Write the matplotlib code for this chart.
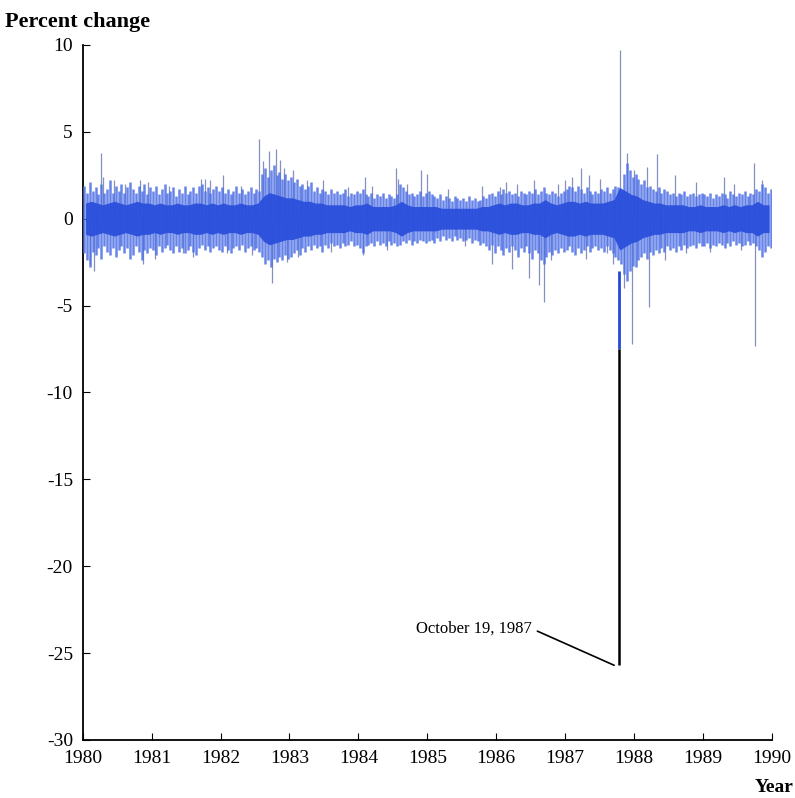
import numpy as np
import matplotlib.pyplot as plt

plt.rcParams["font.family"] = ["Liberation Serif", "DejaVu Serif"]
plt.rcParams["axes.unicode_minus"] = False

YEARS = list(range(1980, 1991))
Y_TICKS = [10, 5, 0, -5, -10, -15, -20, -25, -30]

# outer edge of the daily band, read twice a month (one row = one year)
band_hi = [
    1.9, 1.5, 2.1, 1.6, 1.8, 1.4, 2.0, 1.5, 1.7, 2.2, 1.5, 1.9, 1.6, 2.0, 1.5, 1.8, 2.1, 1.7, 1.5, 1.9, 1.6, 2.0, 1.4, 1.8,
    1.6, 1.9, 1.4, 1.7, 2.0, 1.5, 1.6, 1.8, 1.3, 1.7, 1.5, 1.9, 1.4, 1.6, 1.8, 1.5, 1.9, 2.0, 1.6, 1.8, 1.5, 1.7, 1.9, 1.6,
    1.8, 1.5, 1.7, 1.4, 1.6, 1.9, 1.5, 1.7, 1.4, 1.6, 1.8, 1.5, 1.7, 1.6, 2.6, 2.9, 2.4, 2.8, 3.1, 2.5, 2.7, 2.3, 2.6, 2.2,
    2.4, 2.1, 2.3, 1.9, 2.0, 1.7, 1.9, 2.1, 1.6, 1.8, 1.5, 1.7, 1.6, 1.4, 1.7, 1.5, 1.6, 1.4, 1.5, 1.7, 1.3, 1.5, 1.4, 1.6,
    1.5, 1.7, 1.4, 1.3, 1.5, 1.2, 1.4, 1.3, 1.5, 1.2, 1.4, 1.3, 1.2, 1.4, 2.0, 1.8, 1.6, 1.4, 1.5, 1.3, 1.4, 1.6, 1.3, 1.5,
    1.6, 1.4, 1.3, 1.2, 1.4, 1.1, 1.3, 1.2, 1.0, 1.3, 1.2, 1.1, 1.2, 1.0, 1.3, 1.1, 1.2, 1.0, 1.1, 1.3, 1.2, 1.4, 1.5, 1.3,
    1.6, 1.4, 1.7, 1.5, 1.6, 1.4, 1.5, 1.3, 1.6, 1.5, 1.4, 1.6, 1.5, 1.7, 1.4, 1.6, 1.8, 1.5, 1.4, 1.6, 1.5, 1.3, 1.5, 1.6,
    1.7, 1.9, 1.8, 1.6, 1.9, 1.7, 1.5, 1.8, 1.6, 1.4, 1.6, 1.5, 1.7, 1.6, 1.8, 1.5, 1.7, 1.9, 1.8, 1.6, 2.6, 3.2, 2.8, 2.4,
    2.6, 2.3, 2.0, 2.2, 1.8, 1.9, 1.7, 1.6, 1.8, 1.5, 1.7, 1.6, 1.4, 1.5, 1.3, 1.5, 1.4, 1.6, 1.3, 1.4, 1.5, 1.3, 1.4, 1.5,
    1.4, 1.3, 1.5, 1.2, 1.4, 1.3, 1.5, 1.4, 1.2, 1.6, 1.4, 1.3, 1.5, 1.4, 1.6, 1.3, 1.5, 1.4, 1.7, 1.6, 2.0, 1.8, 1.5, 1.7,
]
band_lo = [
    -2.0, -2.4, -2.8, -1.9, -2.1, -1.7, -2.3, -1.6, -1.9, -2.1, -1.7, -2.2, -1.8, -1.6, -2.0, -1.7, -2.3, -2.1, -1.6, -1.9, -2.4, -1.8, -2.0, -1.7,
    -1.8, -2.1, -1.6, -1.9, -1.7, -1.5, -1.8, -2.0, -1.6, -1.9, -1.7, -2.0, -1.8, -1.6, -1.9, -2.1, -1.7, -1.5, -1.8, -1.6, -1.9, -1.7, -1.6, -1.8,
    -1.9, -1.6, -1.8, -2.0, -1.7, -1.6, -1.8, -1.5, -1.9, -1.7, -1.6, -1.8, -1.7, -1.9, -2.2, -2.6, -2.4, -2.8, -2.3, -2.5, -2.2, -2.4, -2.1, -2.3,
    -2.2, -2.0, -1.8, -2.1, -1.7, -1.9, -1.6, -1.8, -1.5, -1.7, -1.6, -1.9, -1.5, -1.7, -1.4, -1.6, -1.5, -1.7, -1.4, -1.6, -1.5, -1.3, -1.6, -1.5,
    -1.7, -2.0, -1.6, -1.5, -1.4, -1.6, -1.3, -1.5, -1.4, -1.6, -1.3, -1.5, -1.4, -1.6, -1.5, -1.3, -1.4, -1.2, -1.5, -1.3, -1.4, -1.2, -1.3, -1.4,
    -1.3, -1.2, -1.4, -1.1, -1.3, -1.0, -1.2, -1.1, -1.3, -1.0, -1.2, -1.1, -1.3, -1.2, -1.1, -1.4, -1.2, -1.3, -1.5, -1.4, -1.6, -1.8, -1.5, -2.0,
    -1.6, -1.8, -2.1, -1.7, -1.9, -1.6, -1.8, -2.2, -1.7, -1.9, -1.6, -2.0, -2.3, -1.8, -2.0, -2.4, -2.6, -2.2, -1.9, -2.1, -1.8, -2.0, -1.7, -1.9,
    -1.8, -1.6, -1.9, -2.1, -1.7, -2.0, -1.8, -1.6, -1.9, -1.7, -1.6, -1.8, -1.7, -1.9, -1.6, -1.8, -2.0, -2.2, -2.4, -2.6, -3.2, -3.6, -3.0, -2.7,
    -2.8, -2.4, -2.2, -2.0, -2.3, -1.9, -2.1, -1.8, -2.0, -1.7, -1.9, -1.6, -1.8, -1.7, -1.9, -1.6, -1.8, -1.5, -1.7, -1.6, -1.5, -1.7, -1.4, -1.6,
    -1.6, -1.4, -1.7, -1.5, -1.6, -1.4, -1.5, -1.7, -1.4, -1.6, -1.3, -1.5, -1.4, -1.6, -1.5, -1.3, -1.5, -1.4, -1.6, -1.8, -2.2, -1.9, -1.6, -1.7,
]
# dense core of the band, half width per month
core_half = [
    0.9, 1.0, 0.9, 0.8, 0.9, 1.0, 0.9, 0.8, 0.9, 1.0, 0.9, 0.9,
    0.8, 0.9, 0.8, 0.8, 0.9, 0.8, 0.8, 0.9, 0.9, 0.8, 0.9, 0.8,
    0.9, 0.8, 0.8, 0.9, 0.8, 0.8, 0.9, 1.3, 1.5, 1.4, 1.3, 1.2,
    1.2, 1.1, 1.0, 1.0, 0.9, 0.9, 0.8, 0.8, 0.8, 0.8, 0.7, 0.8,
    0.8, 0.9, 0.7, 0.7, 0.7, 0.7, 0.8, 1.0, 0.8, 0.7, 0.7, 0.7,
    0.7, 0.7, 0.6, 0.6, 0.6, 0.6, 0.6, 0.6, 0.6, 0.7, 0.7, 0.8,
    0.9, 0.8, 0.9, 0.9, 0.8, 0.8, 0.9, 0.9, 1.1, 0.9, 0.8, 0.9,
    1.0, 1.0, 0.9, 1.0, 0.9, 0.9, 0.9, 1.0, 1.1, 1.8, 1.6, 1.4,
    1.3, 1.1, 1.0, 0.9, 0.9, 0.8, 0.8, 0.8, 0.8, 0.7, 0.7, 0.8,
    0.7, 0.7, 0.7, 0.8, 0.7, 0.8, 0.7, 0.8, 0.8, 1.0, 0.8, 0.8,
]
# isolated large daily moves (date as decimal year, percent change)
spike_t = [1980.10, 1980.17, 1980.26, 1980.30, 1980.45, 1980.62, 1980.83, 1980.87, 1980.95,
           1981.05, 1981.25, 1981.45, 1981.60, 1981.72, 1981.78, 1981.85,
           1982.03, 1982.10, 1982.30, 1982.45, 1982.56, 1982.62, 1982.71, 1982.75, 1982.80,
           1982.86, 1982.92, 1982.97, 1983.05, 1983.12, 1983.25, 1983.48, 1983.60, 1983.85,
           1984.06, 1984.09, 1984.20, 1984.42, 1984.55, 1984.58, 1984.70, 1984.91, 1985.00,
           1985.30, 1985.55, 1985.80, 1985.94, 1986.05, 1986.14, 1986.23, 1986.30, 1986.48,
           1986.55, 1986.62, 1986.70, 1986.80, 1986.90, 1987.00, 1987.10, 1987.23, 1987.30,
           1987.35, 1987.50, 1987.60, 1987.70, 1987.79, 1987.86, 1987.90, 1987.97, 1988.00,
           1988.19, 1988.22, 1988.33, 1988.45, 1988.60, 1988.75, 1988.90, 1989.10, 1989.30,
           1989.45, 1989.55, 1989.74, 1989.75, 1989.85]
spike_v = [-2.6, -3.0, 3.8, 2.4, 2.2, 2.0, 2.2, -2.6, 2.1,
           -2.3, 1.9, -2.0, -2.2, 2.3, 2.3, 2.2,
           2.5, -2.0, 1.9, -2.1, 4.6, 3.3, 3.9, -3.7, 4.0,
           3.4, 2.9, -2.5, 2.8, -2.2, 2.2, 2.2, -1.9, 1.8,
           -2.1, 2.4, 1.9, -1.8, 2.9, 2.3, 2.0, 2.8, 2.6,
           1.7, -1.6, 1.9, -2.6, 1.8, 2.1, -2.9, 2.0, -3.4,
           2.2, -3.8, -4.8, -2.4, 2.0, 2.2, 2.4, 2.9, -2.3,
           2.5, 2.3, -2.0, -2.6, 9.7, -4.0, 3.8, -7.2, 2.8,
           3.0, -5.1, 3.7, -2.4, 2.5, -2.0, 2.1, -1.9, 2.4,
           2.0, -1.8, 3.2, -7.3, 2.2]

CRASH_T = 1987.78
CRASH_V = -25.7

t_half = 1980 + (np.arange(len(band_hi)) + 0.5) / 24
t_month = 1980 + (np.arange(len(core_half)) + 0.5) / 12
core = np.array(core_half)

fig = plt.figure(figsize=(7.95, 7.98), dpi=100)
ax = fig.add_axes([0.104, 0.0727, 0.867, 0.871])

ax.vlines(spike_t, 0, spike_v, color="#8590c2", lw=0.9, zorder=2)
ax.vlines(t_half, band_lo, band_hi, color="#4d6fe5", lw=1.8, alpha=0.85, zorder=3)
ax.fill_between(t_month, -core, core, color="#2a4fdb", lw=0, alpha=0.95, zorder=4)

# crash day
ax.vlines(CRASH_T, -3.0, -7.5, color="#2448d8", lw=2.0, zorder=5)
ax.vlines(CRASH_T, -7.5, CRASH_V, color="black", lw=1.8, zorder=5)

ax.annotate("October 19, 1987", xy=(CRASH_T - 0.07, CRASH_V), xytext=(1986.52, -23.6),
            ha="right", va="center", fontsize=12,
            arrowprops=dict(arrowstyle="-", color="black", lw=1.2,
                            relpos=(1, 0.5), shrinkA=2, shrinkB=0))

ax.set_xlim(1980, 1990)
ax.set_ylim(-30, 10)
ax.set_xticks(YEARS)
ax.set_yticks(Y_TICKS)
ax.tick_params(direction="in", length=5, labelsize=14, pad=7)
for s in ["top", "right"]:
    ax.spines[s].set_visible(False)
ax.spines["left"].set_linewidth(1.3)
ax.spines["bottom"].set_linewidth(1.3)

fig.text(0.006, 0.972, "Percent change", fontsize=16, fontweight="bold", va="center")
fig.text(0.998, 0.013, "Year", fontsize=14, fontweight="bold", ha="right", va="center")

fig.savefig("out.png", dpi=100)
